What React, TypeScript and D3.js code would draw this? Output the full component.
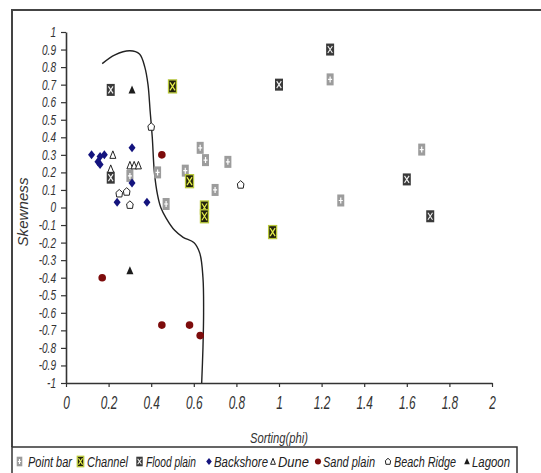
import React, { useEffect, useRef } from 'react'
import * as d3 from 'd3'

// sorting (phi) vs skewness, one array per environment
const pointBar = [
	[1.24, 0.73], [1.67, 0.33], [1.29, 0.04], [0.43, 0.2], [0.47, 0.02], [0.3, 0.18],
	[0.63, 0.34], [0.655, 0.27], [0.56, 0.21], [0.76, 0.26], [0.7, 0.1],
]
const channel = [[0.5, 0.69], [0.58, 0.15], [0.65, 0.0], [0.65, -0.05], [0.97, -0.14]]
const floodPlain = [[0.21, 0.67], [0.21, 0.17], [1.24, 0.9], [1.0, 0.7], [1.6, 0.16], [1.71, -0.05]]
const backshore = [
	[0.12, 0.3], [0.16, 0.29], [0.15, 0.26], [0.16, 0.245], [0.18, 0.3],
	[0.31, 0.34], [0.31, 0.14], [0.24, 0.03], [0.38, 0.03],
]
const dune = [[0.22, 0.3], [0.21, 0.22], [0.3, 0.24], [0.32, 0.24], [0.34, 0.24]]
const sandPlain = [[0.45, 0.3], [0.17, -0.4], [0.45, -0.67], [0.58, -0.67], [0.63, -0.73]]
const beachRidge = [[0.4, 0.46], [0.25, 0.08], [0.285, 0.09], [0.3, 0.015], [0.82, 0.13]]
const lagoon = [[0.31, 0.67], [0.3, -0.36]]

// the hand drawn boundary line
const boundary = [
	[0.17, 0.82], [0.23, 0.87], [0.3, 0.893], [0.345, 0.875], [0.37, 0.8], [0.385, 0.7],
	[0.395, 0.55], [0.405, 0.4], [0.415, 0.2], [0.43, 0.07], [0.445, 0.0], [0.47, -0.06],
	[0.51, -0.13], [0.55, -0.17], [0.6, -0.2], [0.628, -0.26], [0.643, -0.4], [0.646, -0.6],
	[0.643, -0.8], [0.637, -1],
]

const xTicks = [0, 0.2, 0.4, 0.6, 0.8, 1, 1.2, 1.4, 1.6, 1.8, 2]
const yTicks = [1, 0.9, 0.8, 0.7, 0.6, 0.5, 0.4, 0.3, 0.2, 0.1, 0, -0.1, -0.2, -0.3, -0.4, -0.5, -0.6, -0.7, -0.8, -0.9, -1]

const legendNames = ['Point bar', 'Channel', 'Flood plain', 'Backshore', 'Dune', 'Sand plain', 'Beach Ridge', 'Lagoon']

const FONT = "'Liberation Sans', Arial, sans-serif"

// no narrow font installed, so squeeze the text to look like Arial Narrow
const squeeze = (sel, ratio) => {
	sel.each(function () {
		const w = this.getComputedTextLength()
		d3.select(this).attr('textLength', w * ratio).attr('lengthAdjust', 'spacingAndGlyphs')
	})
}

const drawMarker = (g, kind, s = 1) => {
	if (kind === 'Point bar') {
		g.append('rect').attr('x', -3.5 * s).attr('y', -6 * s).attr('width', 7 * s).attr('height', 12 * s).attr('fill', '#9c9c9c')
		g.append('path').attr('d', `M${-2 * s},0H${2 * s}M0,${-3 * s}V${3 * s}`).attr('stroke', '#fff').attr('stroke-width', 1.2)
	} else if (kind === 'Channel') {
		g.append('rect').attr('x', -4 * s).attr('y', -6.5 * s).attr('width', 8 * s).attr('height', 13 * s)
			.attr('fill', '#23230e').attr('stroke', '#b9c83c').attr('stroke-width', 1.3)
		g.append('path').attr('d', `M${-2.5 * s},${-4 * s}L${2.5 * s},${4 * s}M${2.5 * s},${-4 * s}L${-2.5 * s},${4 * s}`)
			.attr('stroke', '#e8f04c').attr('stroke-width', 1.2)
	} else if (kind === 'Flood plain') {
		g.append('rect').attr('x', -4 * s).attr('y', -6 * s).attr('width', 8 * s).attr('height', 12 * s).attr('fill', '#3a3a3a')
		g.append('path').attr('d', `M${-2.3 * s},${-3.5 * s}L${2.3 * s},${3.5 * s}M${2.3 * s},${-3.5 * s}L${-2.3 * s},${3.5 * s}`)
			.attr('stroke', '#f2f2f2').attr('stroke-width', 1.1)
	} else if (kind === 'Backshore') {
		g.append('path').attr('d', `M0,${-4.5 * s}L${3.5 * s},0L0,${4.5 * s}L${-3.5 * s},0Z`).attr('fill', '#14147e')
	} else if (kind === 'Dune') {
		g.append('path').attr('d', `M0,${-4 * s}L${3 * s},${3.5 * s}L${-3 * s},${3.5 * s}Z`)
			.attr('fill', '#fff').attr('stroke', '#222').attr('stroke-width', 1)
	} else if (kind === 'Sand plain') {
		g.append('circle').attr('r', 3.8 * s).attr('fill', '#7d0c0c')
	} else if (kind === 'Beach Ridge') {
		g.append('path').attr('d', `M0,${-4 * s}L${3.3 * s},${-1 * s}L${2.6 * s},${3.5 * s}L${-2.6 * s},${3.5 * s}L${-3.3 * s},${-1 * s}Z`)
			.attr('fill', '#fff').attr('stroke', '#222').attr('stroke-width', 1)
	} else {
		g.append('path').attr('d', `M0,${-4.5 * s}L${3.5 * s},${3.5 * s}L${-3.5 * s},${3.5 * s}Z`).attr('fill', '#1c1c1c')
	}
}

const App = () => {
	const ref = useRef(null)

	useEffect(() => {
		const svg = d3.select(ref.current)
		svg.selectAll('*').remove()

		const x = d3.scaleLinear().domain([0, 2]).range([66, 492])
		const y = d3.scaleLinear().domain([-1, 1]).range([383, 32])

		// outer frame (top and left visible)
		svg.append('path').attr('d', 'M12,447V10H541').attr('fill', 'none').attr('stroke', '#444').attr('stroke-width', 2)

		const yAxis = svg.append('g').attr('transform', 'translate(66,0)')
			.call(d3.axisLeft(y).tickValues(yTicks).tickSize(5).tickSizeOuter(0).tickPadding(5).tickFormat(d => String(d)))
		const xAxis = svg.append('g').attr('transform', 'translate(0,383)')
			.call(d3.axisBottom(x).tickValues(xTicks).tickSize(4).tickSizeOuter(0).tickFormat(d => String(d)))

		;[xAxis, yAxis].forEach(a => {
			a.select('.domain').attr('stroke', '#333').attr('stroke-width', 1.6)
			a.selectAll('.tick line').attr('stroke', '#333').attr('stroke-width', 1.2)
			a.selectAll('.tick text').attr('font-family', FONT).attr('font-style', 'italic').attr('fill', '#333')
		})
		yAxis.selectAll('.tick text').attr('font-size', 14)
		xAxis.selectAll('.tick text').attr('font-size', 18).attr('y', 26).attr('dy', 0)
		squeeze(yAxis.selectAll('.tick text'), 0.72)
		squeeze(xAxis.selectAll('.tick text'), 0.66)

		svg.append('text').attr('transform', 'translate(28,212) rotate(-90)').attr('text-anchor', 'middle')
			.attr('font-family', FONT).attr('font-style', 'italic').attr('font-size', 14)
			.attr('textLength', 69).attr('lengthAdjust', 'spacingAndGlyphs')
			.attr('fill', '#333').text('Skewness')
		svg.append('text').attr('x', 279).attr('y', 443).attr('text-anchor', 'middle')
			.attr('font-family', FONT).attr('font-style', 'italic').attr('font-size', 14)
			.attr('textLength', 58).attr('lengthAdjust', 'spacingAndGlyphs').attr('fill', '#333')
			.text('Sorting(phi)')

		const line = d3.line().x(d => x(d[0])).y(d => y(d[1])).curve(d3.curveCatmullRom)
		svg.append('path').attr('d', line(boundary)).attr('fill', 'none').attr('stroke', '#222').attr('stroke-width', 1.4)

		const series = [
			['Point bar', pointBar], ['Channel', channel], ['Flood plain', floodPlain], ['Backshore', backshore],
			['Dune', dune], ['Sand plain', sandPlain], ['Beach Ridge', beachRidge], ['Lagoon', lagoon],
		]
		series.forEach(([name, pts]) => {
			pts.forEach(p => {
				const g = svg.append('g').attr('transform', `translate(${x(p[0])},${y(p[1])})`)
				drawMarker(g, name)
			})
		})

		// legend
		svg.append('rect').attr('x', 12).attr('y', 447).attr('width', 505).attr('height', 32)
			.attr('fill', '#fff').attr('stroke', '#333').attr('stroke-width', 1.5)
		const markerX = [19.5, 80.5, 139.5, 209, 273, 318, 388, 467]
		const textX = [28, 87, 146, 214, 278, 323, 394, 472]
		const textW = [44, 41, 50, 54, 31, 52, 62, 38]
		legendNames.forEach((name, i) => {
			const g = svg.append('g').attr('transform', `translate(${markerX[i]},461.5)`)
			drawMarker(g, name, 0.8)
			svg.append('text').attr('x', textX[i]).attr('y', 466.5).attr('font-family', FONT).attr('font-style', 'italic')
				.attr('font-size', 14).attr('textLength', textW[i]).attr('lengthAdjust', 'spacingAndGlyphs')
				.attr('fill', '#222').text(name)
		})
	}, [])

	return (
		<svg
			ref={ref}
			width={541}
			height={473}
			style={{ position: 'absolute', left: 0, top: 0, background: '#fff' }}
		></svg>
	)
}

export default App
